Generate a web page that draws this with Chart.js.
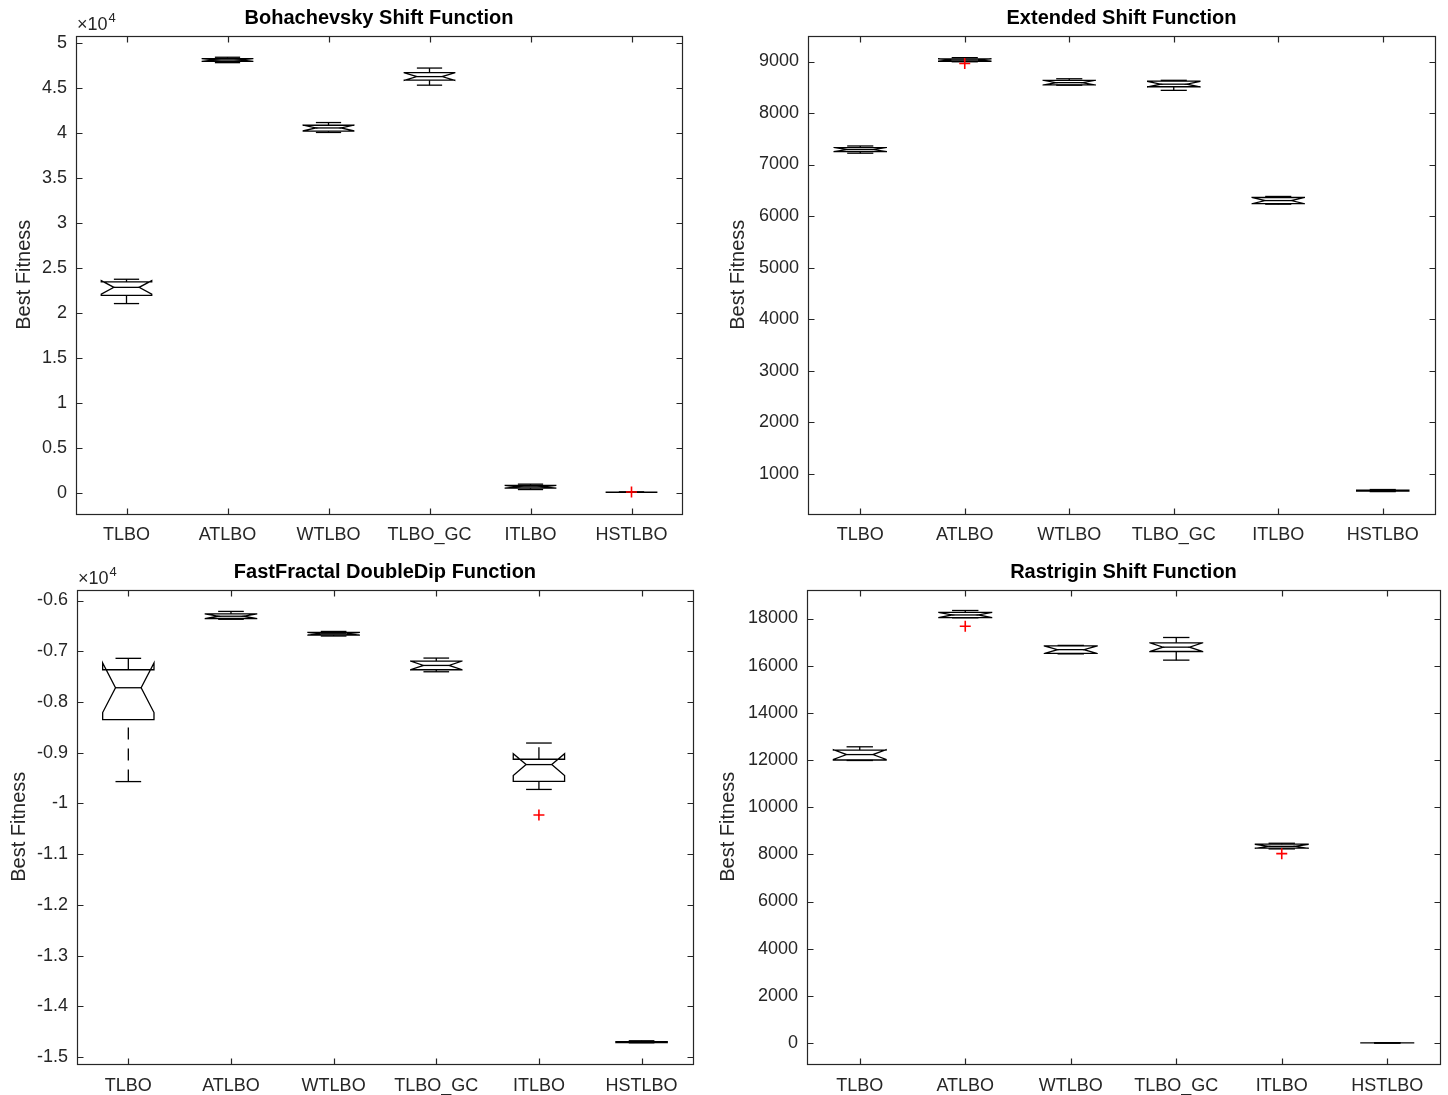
<!DOCTYPE html>
<html>
<head>
<meta charset="utf-8">
<title>Best Fitness comparison</title>
<script src="https://cdn.jsdelivr.net/npm/chart.js@4.4.1/dist/chart.umd.min.js"></script>
<style>
  html, body { margin: 0; padding: 0; background: #ffffff; }
  body { width: 1448px; height: 1095px; position: relative; overflow: hidden; }
  canvas { position: absolute; }
</style>
</head>
<body>
<canvas id="boh" width="700" height="548" style="left:0px;top:0px"></canvas>
<canvas id="ext" width="748" height="548" style="left:700px;top:0px"></canvas>
<canvas id="ff"  width="700" height="541" style="left:0px;top:554px"></canvas>
<canvas id="ras" width="748" height="541" style="left:700px;top:554px"></canvas>
<script>
// Algorithms compared in every panel
const categories = ['TLBO', 'ATLBO', 'WTLBO', 'TLBO_GC', 'ITLBO', 'HSTLBO'];
// Number of runs per algorithm (sets the notch width)
const runs = 10;

// Bohachevsky Shift Function
const bohMax = [23750, 48400, 41150, 47200, 1000, 110];
const bohQ3  = [23450, 48250, 40850, 46700,  850, 105];
const bohMed = [22850, 48100, 40550, 46250,  700, 100];
const bohQ1  = [21950, 47950, 40200, 45850,  550,  95];
const bohMin = [21050, 47800, 40050, 45300,  400,  90];
const bohOut = [null, null, null, null, null, 120];
const bohTicks = [0, 0.5, 1, 1.5, 2, 2.5, 3, 3.5, 4, 4.5, 5];   // ×10^4
const bohRange = [-2315, 50815];

// Extended Shift Function
const extMax = [7360, 9075, 8665, 8635, 6380, 690];
const extQ3  = [7330, 9050, 8635, 8620, 6360, 680];
const extMed = [7290, 9030, 8590, 8560, 6300, 670];
const extQ1  = [7250, 9005, 8545, 8510, 6240, 660];
const extMin = [7220, 8995, 8540, 8440, 6230, 650];
const extOut = [null, 8960, null, null, null, null];
const extTicks = [1000, 2000, 3000, 4000, 5000, 6000, 7000, 8000, 9000];
const extRange = [215, 9505];

// FastFractal DoubleDip Function
const ffMax = [-7140, -6215, -6610, -7135, -8810, -14680];
const ffQ3  = [-7365, -6265, -6630, -7195, -9130, -14695];
const ffMed = [-7720, -6310, -6655, -7280, -9235, -14705];
const ffQ1  = [-8350, -6355, -6680, -7365, -9565, -14715];
const ffMin = [-9570, -6370, -6700, -7405, -9725, -14720];
const ffOut = [null, null, null, null, -10230, null];
const ffTicks = [-1.5, -1.4, -1.3, -1.2, -1.1, -1, -0.9, -0.8, -0.7, -0.6];   // ×10^4
const ffRange = [-15138, -5783];

// Rastrigin Shift Function
const rasMax = [12560, 18340, 16860, 17195, 8470, 12];
const rasQ3  = [12420, 18260, 16840, 16970, 8430,  8];
const rasMed = [12230, 18150, 16680, 16785, 8340,  5];
const rasQ1  = [12000, 18040, 16520, 16600, 8260,  2];
const rasMin = [11980, 18030, 16500, 16235, 8230,  0];
const rasOut = [null, 17670, null, null, 8030, null];
const rasTicks = [0, 2000, 4000, 6000, 8000, 10000, 12000, 14000, 16000, 18000];
const rasRange = [-890, 19230];

const FONT = "'Liberation Sans', Arial, Helvetica, sans-serif";
const AXIS_COLOR = '#262626';

// Draws MATLAB-style notched boxes, the axes frame with inward ticks and the exponent note
function makeBoxPlugin(stats) {
  return {
    id: 'notchedBox',
    beforeDatasetsDraw(chart) {
      const { ctx, scales: { x, y } } = chart;
      const step = x.getPixelForValue(1) - x.getPixelForValue(0);
      const halfW = step * 0.25;
      const innerW = step * 0.125;
      const capW = step * 0.125;
      const py = v => y.getPixelForValue(v);
      const seg = (x1, y1, x2, y2) => {
        ctx.beginPath(); ctx.moveTo(x1, y1); ctx.lineTo(x2, y2); ctx.stroke();
      };
      ctx.save();
      ctx.strokeStyle = '#000000';
      ctx.lineWidth = 1.3;
      stats.med.forEach((m, i) => {
        const cx = x.getPixelForValue(i);
        const q1 = stats.q1[i], q3 = stats.q3[i];
        const lo = stats.min[i], hi = stats.max[i];
        const notch = 1.57 * (q3 - q1) / Math.sqrt(runs);
        // dashed whiskers
        ctx.setLineDash([12, 9]);
        seg(cx, py(lo), cx, py(q1));
        seg(cx, py(q3), cx, py(hi));
        ctx.setLineDash([]);
        // whisker caps
        seg(cx - capW, py(hi), cx + capW, py(hi));
        seg(cx - capW, py(lo), cx + capW, py(lo));
        // notched box outline
        ctx.beginPath();
        ctx.moveTo(cx - halfW, py(q1));
        ctx.lineTo(cx - halfW, py(m - notch));
        ctx.lineTo(cx - innerW, py(m));
        ctx.lineTo(cx - halfW, py(m + notch));
        ctx.lineTo(cx - halfW, py(q3));
        ctx.lineTo(cx + halfW, py(q3));
        ctx.lineTo(cx + halfW, py(m + notch));
        ctx.lineTo(cx + innerW, py(m));
        ctx.lineTo(cx + halfW, py(m - notch));
        ctx.lineTo(cx + halfW, py(q1));
        ctx.closePath();
        ctx.stroke();
        // median
        seg(cx - innerW, py(m), cx + innerW, py(m));
      });
      ctx.restore();
    },
    afterDraw(chart) {
      const { ctx, chartArea: a, scales: { x, y } } = chart;
      const L = Math.round(a.left) + 0.5, R = Math.round(a.right) + 0.5;
      const T = Math.round(a.top) + 0.5, B = Math.round(a.bottom) + 0.5;
      const tick = 6;
      ctx.save();
      ctx.strokeStyle = AXIS_COLOR;
      ctx.lineWidth = 1.2;
      ctx.strokeRect(L, T, R - L, B - T);
      ctx.beginPath();
      y.ticks.forEach((t, i) => {
        const p = Math.round(y.getPixelForTick(i)) + 0.5;
        ctx.moveTo(L, p); ctx.lineTo(L + tick, p);
        ctx.moveTo(R, p); ctx.lineTo(R - tick, p);
      });
      x.ticks.forEach((t, i) => {
        const p = Math.round(x.getPixelForTick(i)) + 0.5;
        ctx.moveTo(p, T); ctx.lineTo(p, T + tick);
        ctx.moveTo(p, B); ctx.lineTo(p, B - tick);
      });
      ctx.stroke();
      if (stats.exponent) {
        ctx.fillStyle = AXIS_COLOR;
        ctx.textBaseline = 'alphabetic';
        ctx.textAlign = 'left';
        ctx.font = '18px ' + FONT;
        const base = '\u00d710';
        const x0 = a.left + 1;
        ctx.fillText(base, x0, a.top - 6);
        const w = ctx.measureText(base).width;
        ctx.font = '13px ' + FONT;
        ctx.fillText(String(stats.exponent), x0 + w + 1, a.top - 14);
      }
      ctx.restore();
    }
  };
}

function makePanel(id, cfg) {
  const mult = cfg.exponent ? Math.pow(10, cfg.exponent) : 1;
  const tickValues = cfg.ticks.map(t => t * mult);
  return new Chart(document.getElementById(id), {
    type: 'line',
    data: {
      labels: categories,
      datasets: [{
        data: cfg.outliers,
        showLine: false,
        pointStyle: 'cross',
        pointRadius: 5.5,
        pointHoverRadius: 5.5,
        pointBorderWidth: 1.6,
        pointBorderColor: '#ff0000',
        borderColor: '#ff0000',
        backgroundColor: '#ff0000'
      }]
    },
    options: {
      responsive: false,
      animation: false,
      devicePixelRatio: 1,
      events: [],
      layout: { padding: cfg.padding },
      plugins: {
        legend: { display: false },
        tooltip: { enabled: false },
        title: {
          display: true,
          text: cfg.title,
          fullSize: false,
          color: '#000000',
          font: { family: FONT, size: 20, weight: 'bold' },
          padding: { top: 6, bottom: 5.5 }
        }
      },
      scales: {
        x: {
          type: 'category',
          offset: true,
          grid: { display: false, drawTicks: false },
          border: { display: false },
          ticks: {
            color: AXIS_COLOR,
            font: { family: FONT, size: 18 },
            padding: cfg.xPad,
            autoSkip: false,
            maxRotation: 0
          },
          afterFit: s => { s.height = cfg.xHeight; }
        },
        y: {
          type: 'linear',
          min: cfg.range[0],
          max: cfg.range[1],
          grid: { display: false, drawTicks: false },
          border: { display: false },
          title: {
            display: true,
            text: 'Best Fitness',
            color: AXIS_COLOR,
            font: { family: FONT, size: 20 },
            padding: { top: cfg.yTitlePad, bottom: 0 }
          },
          ticks: {
            color: AXIS_COLOR,
            font: { family: FONT, size: 18 },
            padding: 9,
            autoSkip: false,
            callback: v => String(+(v / mult).toFixed(2))
          },
          afterBuildTicks: s => { s.ticks = tickValues.map(v => ({ value: v })); },
          afterFit: s => { s.width = cfg.yWidth; }
        }
      }
    },
    plugins: [makeBoxPlugin(cfg)]
  });
}

makePanel('boh', {
  title: 'Bohachevsky Shift Function',
  min: bohMin, q1: bohQ1, med: bohMed, q3: bohQ3, max: bohMax, outliers: bohOut,
  ticks: bohTicks, range: bohRange, exponent: 4,
  padding: { left: 0, right: 18, top: 0, bottom: 0 },
  yWidth: 76, yTitlePad: 12, xHeight: 34, xPad: 10
});
makePanel('ext', {
  title: 'Extended Shift Function',
  min: extMin, q1: extQ1, med: extMed, q3: extQ3, max: extMax, outliers: extOut,
  ticks: extTicks, range: extRange, exponent: 0,
  padding: { left: 0, right: 13, top: 0, bottom: 0 },
  yWidth: 108, yTitlePad: 26, xHeight: 34, xPad: 10
});
makePanel('ff', {
  title: 'FastFractal DoubleDip Function',
  min: ffMin, q1: ffQ1, med: ffMed, q3: ffQ3, max: ffMax, outliers: ffOut,
  ticks: ffTicks, range: ffRange, exponent: 4,
  padding: { left: 0, right: 7, top: 0, bottom: 0 },
  yWidth: 77, yTitlePad: 7, xHeight: 31, xPad: 11
});
makePanel('ras', {
  title: 'Rastrigin Shift Function',
  min: rasMin, q1: rasQ1, med: rasMed, q3: rasQ3, max: rasMax, outliers: rasOut,
  ticks: rasTicks, range: rasRange, exponent: 0,
  padding: { left: 0, right: 8, top: 0, bottom: 0 },
  yWidth: 107, yTitlePad: 16, xHeight: 31, xPad: 11
});
</script>
</body>
</html>
